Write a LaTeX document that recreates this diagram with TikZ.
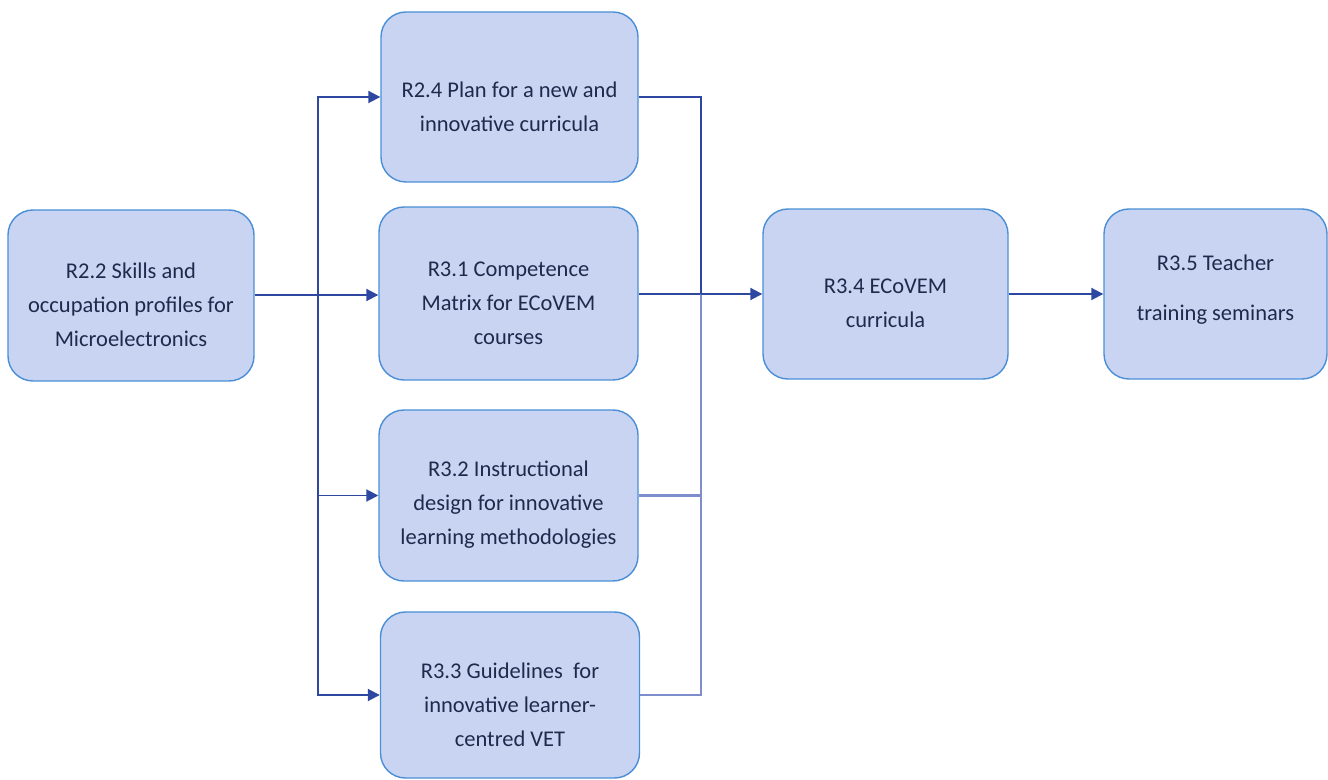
\documentclass[tikz,border=0pt]{standalone}
\usepackage{fontspec}
\setmainfont{Carlito}
\usepackage{xcolor}
\usepackage{tikz}
\usetikzlibrary{positioning}
\usetikzlibrary{arrows.meta}
\definecolor{boxfill}{HTML}{C9D4F3}
\definecolor{boxline}{HTML}{4A8FD6}
\definecolor{wire}{HTML}{2E48A2}
\definecolor{wirelight}{HTML}{7E8ECC}
\definecolor{boxtext}{HTML}{1E2A4C}
\tikzset{res/.style={draw=boxline, line width=0.8pt, fill=boxfill, rounded corners=0.5cm}}
\tikzset{restext/.style={align=center, text=boxtext, font=\fontsize{12.8}{19.4}\selectfont,
    inner sep=0pt, yshift=-0.19cm}}
\tikzset{wire/.style={draw=wire, line width=1.1pt}}
\tikzset{arr/.style={wire, -{Triangle[length=2.4mm,width=2.4mm]}}}

\begin{document}
\begin{tikzpicture}
\useasboundingbox (0,0) rectangle (26.56,-15.6);
\def\xl{6.36}  % left bus
\def\xr{14.02} % right bus

\node[res, minimum width=4.92cm, minimum height=3.42cm,
  label={[restext]center:{R2.2 Skills and\\occupation profiles for\\Microelectronics}}] (r22) at (2.62,-5.91) {};
\node[res, minimum width=5.14cm, minimum height=3.40cm,
  label={[restext]center:{R2.4 Plan for a new and\\innovative curricula}}] (r24) at (10.19,-1.94) {};
\node[res, minimum width=5.18cm, minimum height=3.46cm,
  label={[restext]center:{R3.1 Competence\\Matrix for ECoVEM\\courses}}] (r31) at (10.17,-5.87) {};
\node[res, minimum width=5.18cm, minimum height=3.42cm,
  label={[restext]center:{R3.2 Instructional\\design for innovative\\learning methodologies}}] (r32) at (10.17,-9.91) {};
\node[res, minimum width=5.18cm, minimum height=3.32cm,
  label={[restext]center:{R3.3 Guidelines~ for\\innovative learner-\\centred VET}}] (r33) at (10.20,-13.90) {};
\node[res, minimum width=4.90cm, minimum height=3.40cm,
  label={[restext]center:{R3.4 ECoVEM\\curricula}}] (r34) at (17.71,-5.88) {};
\node[res, minimum width=4.46cm, minimum height=3.40cm,
  label={[restext, yshift=0.28cm]center:{R3.5 Teacher\\[0.32cm]training seminars}}] (r35) at (24.31,-5.88) {};

\coordinate (lb) at (\xl,-5.90);
\coordinate (rb) at (\xr,-5.88);

% left side
\draw[wire] (r22.east |- lb) -- (lb);
\draw[arr] (lb) |- (r24.west);
\draw[arr] (lb) -- (r31.west |- lb);
\draw[arr] (lb) |- (r32.west);
\draw[arr] (lb) |- (r33.west);

% right side
\draw[wire] (r24.east) -| (rb);
\draw[wire] (r31.east |- rb) -- (rb);
\draw[wirelight, line width=1.3pt] (r32.east) -| (rb);
\draw[wirelight, line width=1.3pt] (r33.east) -| (rb);
\draw[arr] (rb) -- (r34.west);
\draw[arr] (r34.east) -- (r35.west);
\end{tikzpicture}
\end{document}
